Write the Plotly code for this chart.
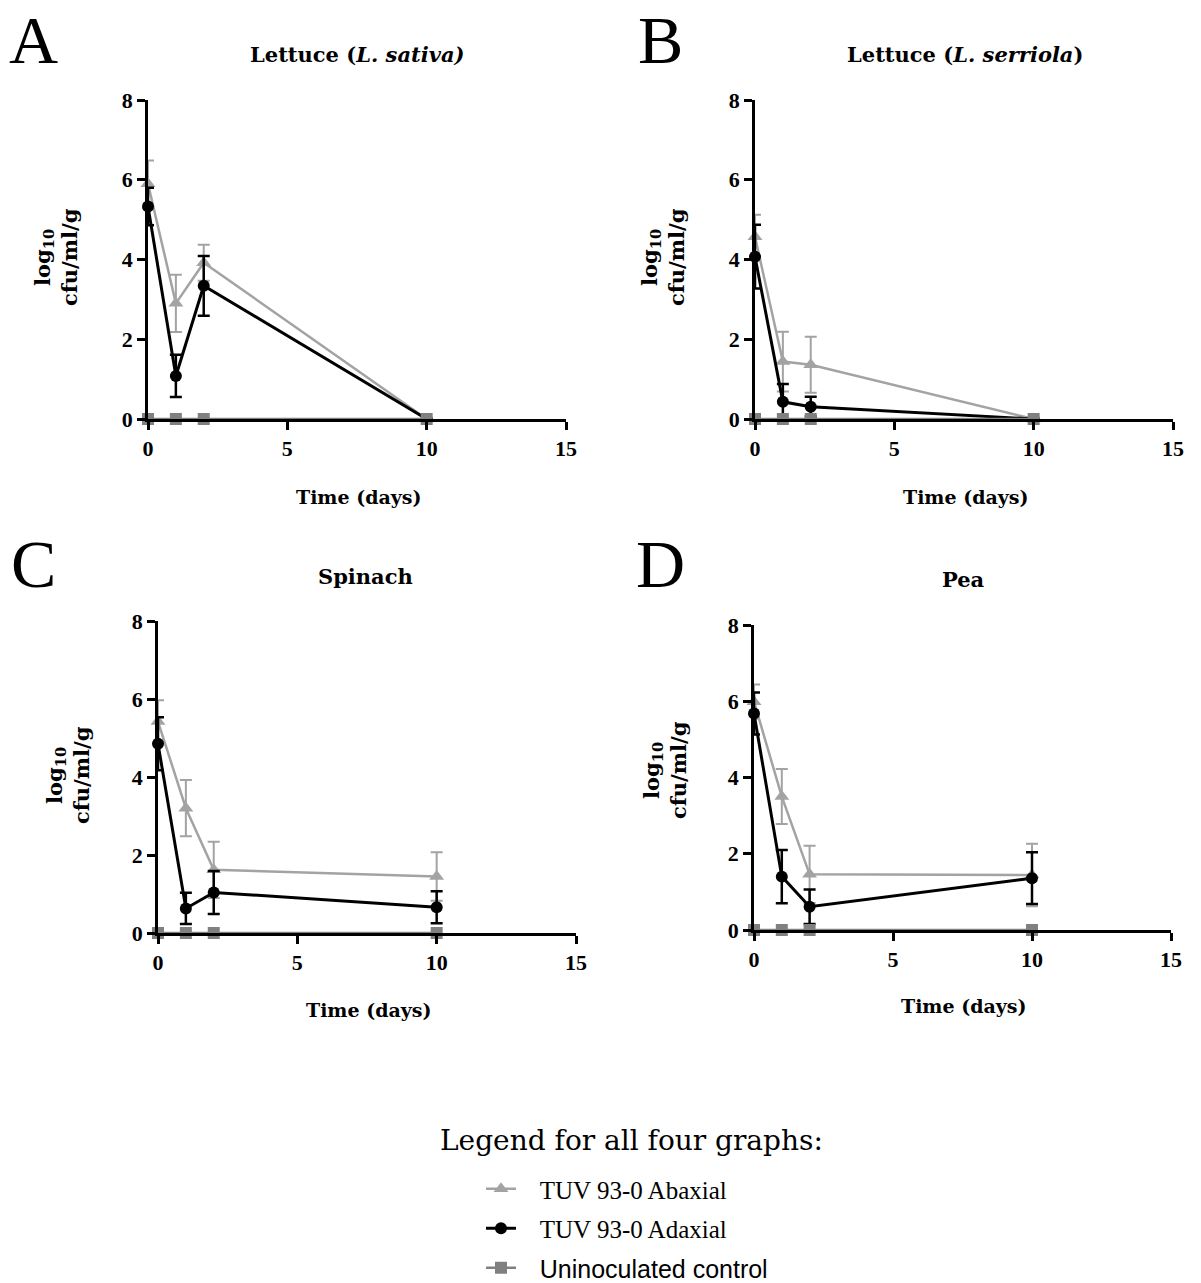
import plotly.graph_objects as go

# ---------------- data ----------------
days = [0, 1, 2, 10]

panel_letters = ["A", "B", "C", "D"]
panel_titles = ["Lettuce (<i>L. sativa)</i>", "Lettuce (<i>L. serriola</i>)", "Spinach", "Pea"]

abaxial_A = [5.90, 2.90, 3.92, 0.0]
abaxial_A_err = [0.58, 0.72, 0.45, 0.0]
adaxial_A = [5.33, 1.08, 3.34, 0.0]
adaxial_A_err = [0.47, 0.53, 0.75, 0.0]

abaxial_B = [4.57, 1.44, 1.36, 0.0]
abaxial_B_err = [0.55, 0.75, 0.70, 0.0]
adaxial_B = [4.07, 0.43, 0.31, 0.0]
adaxial_B_err = [0.80, 0.45, 0.25, 0.0]

abaxial_C = [5.42, 3.20, 1.62, 1.45]
abaxial_C_err = [0.55, 0.72, 0.72, 0.62]
adaxial_C = [4.85, 0.63, 1.04, 0.66]
adaxial_C_err = [0.68, 0.40, 0.55, 0.41]

abaxial_D = [5.99, 3.50, 1.46, 1.44]
abaxial_D_err = [0.45, 0.72, 0.75, 0.82]
adaxial_D = [5.68, 1.40, 0.61, 1.36]
adaxial_D_err = [0.55, 0.70, 0.45, 0.68]

control = [0.0, 0.0, 0.0, 0.0]

series_names = ["TUV 93-0 Abaxial", "TUV 93-0 Adaxial", "Uninoculated control"]
x_ticks = [0, 5, 10, 15]
y_ticks = [0, 2, 4, 6, 8]

# ---------------- layout geometry ----------------
W, H = 1201, 1283
SERIF = "Liberation Serif"
WSERIF = "DejaVu Serif"
GRAY = "#a3a3a3"
DGRAY = "#808080"

# pixel boxes: (x0, x1, y_bottom, y_top)
boxes = [(148, 566, 419, 100), (755, 1173, 419, 100),
         (158, 576, 933, 621), (754, 1171, 930, 625)]
# letter boxes anchored at their top edge
letter_pos = [(33, 0), (660, 0), (33, 524), (660, 524)]
title_pos = [(357, 55), (965, 55), (365, 576), (963, 580)]
xlab_pos = [(358, 497), (965, 497), (368, 1010), (963, 1006)]
ylab_pos = [(56, 257), (663, 257), (68, 775), (665, 770)]

data = [
    (abaxial_A, abaxial_A_err, adaxial_A, adaxial_A_err),
    (abaxial_B, abaxial_B_err, adaxial_B, adaxial_B_err),
    (abaxial_C, abaxial_C_err, adaxial_C, adaxial_C_err),
    (abaxial_D, abaxial_D_err, adaxial_D, adaxial_D_err),
]

fig = go.Figure()
annotations = []
PAD = "&nbsp;&nbsp;&nbsp;"

for i, (ab, abe, ad, ade) in enumerate(data):
    xa = "x" if i == 0 else f"x{i+1}"
    ya = "y" if i == 0 else f"y{i+1}"
    show = i == 0
    fig.add_trace(go.Scatter(
        x=days, y=ab, xaxis=xa, yaxis=ya, name=PAD + series_names[0], legendgroup="g1",
        showlegend=show, mode="lines+markers", cliponaxis=False,
        line=dict(color=GRAY, width=2.5),
        marker=dict(symbol="triangle-up", size=13, color=GRAY),
        error_y=dict(type="data", array=abe, color=GRAY, thickness=2, width=6),
    ))
    fig.add_trace(go.Scatter(
        x=days, y=ad, xaxis=xa, yaxis=ya, name=PAD + series_names[1], legendgroup="g2",
        showlegend=show, mode="lines+markers", cliponaxis=False,
        line=dict(color="black", width=3),
        marker=dict(symbol="circle", size=12, color="black"),
        error_y=dict(type="data", array=ade, color="black", thickness=2.5, width=6),
    ))
    fig.add_trace(go.Scatter(
        x=days, y=control, xaxis=xa, yaxis=ya,
        name=PAD + "<span style='font-family:Liberation Sans Narrow, Liberation Sans'>" + series_names[2] + "</span>",
        legendgroup="g3", showlegend=show, mode="lines+markers", cliponaxis=False,
        line=dict(color=DGRAY, width=2.5),
        marker=dict(symbol="square", size=12, color=DGRAY),
    ))

    x0, x1, yb, yt = boxes[i]
    axis_common = dict(showline=True, linecolor="black", linewidth=2.5, ticks="outside",
                       ticklen=8, tickwidth=2.5, tickcolor="black", showgrid=False,
                       zeroline=False, fixedrange=True,
                       tickfont=dict(family=SERIF, size=22, color="black", weight="bold"))
    fig.update_layout(**{
        ("xaxis" if i == 0 else f"xaxis{i+1}"): dict(
            domain=[x0 / W, x1 / W], range=[0, 15], tickvals=x_ticks,
            anchor=ya, **axis_common),
        ("yaxis" if i == 0 else f"yaxis{i+1}"): dict(
            domain=[1 - yb / H, 1 - yt / H], range=[0, 8], tickvals=y_ticks,
            anchor=xa, **axis_common),
    })

    lx, ly = letter_pos[i]
    annotations.append(dict(text=panel_letters[i], x=lx / W, y=1 - ly / H, xref="paper", yref="paper",
                            showarrow=False, xanchor="center", yanchor="top",
                            font=dict(family=SERIF, size=68, color="black")))
    tx, ty = title_pos[i]
    annotations.append(dict(text=panel_titles[i], x=tx / W, y=1 - ty / H, xref="paper", yref="paper",
                            showarrow=False, xanchor="center", yanchor="middle",
                            font=dict(family=WSERIF, size=21, color="black", weight="bold")))
    bx, by = xlab_pos[i]
    annotations.append(dict(text="Time (days)", x=bx / W, y=1 - by / H, xref="paper", yref="paper",
                            showarrow=False, xanchor="center", yanchor="middle",
                            font=dict(family=WSERIF, size=19, color="black", weight="bold")))
    vx, vy = ylab_pos[i]
    annotations.append(dict(text="log<sub>10</sub><br>cfu/ml/g", x=vx / W, y=1 - vy / H,
                            xref="paper", yref="paper", textangle=-90,
                            showarrow=False, xanchor="center", yanchor="middle",
                            font=dict(family=WSERIF, size=21, color="black", weight="bold")))

annotations.append(dict(text="Legend for all four graphs:", x=631 / W, y=1 - 1140 / H,
                        xref="paper", yref="paper", showarrow=False,
                        xanchor="center", yanchor="middle",
                        font=dict(family=WSERIF, size=28, color="black")))

fig.update_layout(
    width=W, height=H, margin=dict(l=0, r=0, t=0, b=0, autoexpand=False),
    paper_bgcolor="white", plot_bgcolor="white",
    annotations=annotations,
    showlegend=True,
    legend=dict(x=481 / W, y=1 - 1166 / H, xanchor="left", yanchor="top",
                font=dict(family=SERIF, size=25, color="black"),
                tracegroupgap=4, itemwidth=30, bgcolor="rgba(0,0,0,0)"),
)

fig.write_html("out.html")
